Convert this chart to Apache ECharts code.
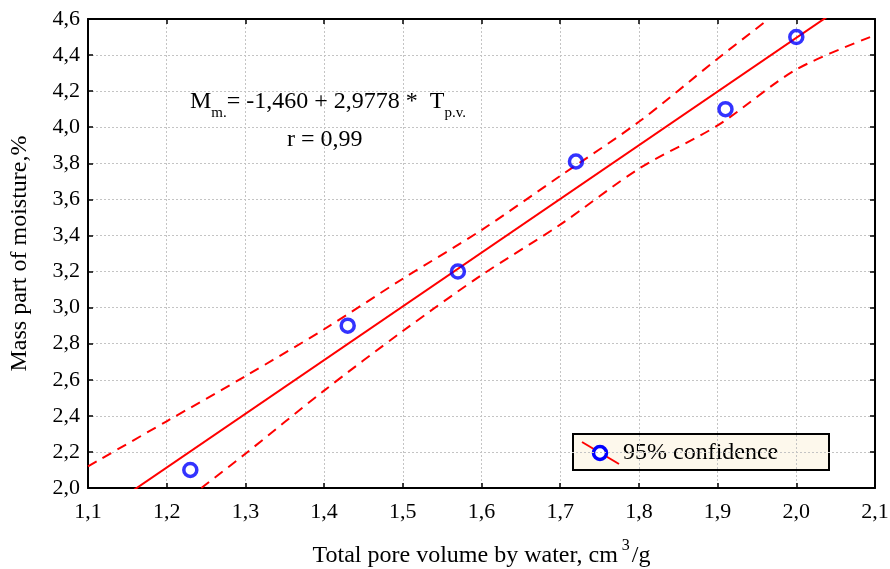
<!DOCTYPE html>
<html>
<head>
<meta charset="utf-8">
<script src="https://cdn.jsdelivr.net/npm/echarts@6/dist/echarts.min.js"></script>
<style>
  html, body { margin: 0; padding: 0; background: #ffffff; }
  #chart { width: 890px; height: 569px; }
</style>
</head>
<body>
<div id="chart"></div>
<script>
// Measured samples: total pore volume (cm3/g) vs. mass part of moisture (%)
const poreVolume = [1.23, 1.43, 1.57, 1.72, 1.91, 2.00];
const moisture   = [2.10, 2.90, 3.20, 3.81, 4.10, 4.50];

// Fitted regression: M = intercept + slope * T
const intercept = -1.460;
const slope = 2.9778;
const fitRange = [1.1, 2.1];

// 95% confidence limits of the fit
const upperT = [1.10, 1.20, 1.30, 1.40, 1.50, 1.60, 1.70, 1.80, 1.90, 1.965];
const upperM = [2.12, 2.37, 2.62, 2.88, 3.16, 3.43, 3.73, 4.03, 4.38, 4.60];
const lowerT = [1.244, 1.30, 1.40, 1.50, 1.60, 1.70, 1.80, 1.90, 2.00, 2.10];
const lowerM = [2.00, 2.19, 2.54, 2.87, 3.18, 3.46, 3.77, 4.01, 4.32, 4.51];

// Axis ranges
const xMin = 1.1, xMax = 2.1, xStep = 0.1;
const yMin = 2.0, yMax = 4.6, yStep = 0.2;

const SERIF = '"Liberation Serif", "Times New Roman", serif';
const RED = '#ff0000';
const BLUE = '#0000ff';

const comma = v => v.toFixed(1).replace('.', ',');
const pairs = (xs, ys) => xs.map((x, i) => [x, ys[i]]);
const fitLine = fitRange.map(t => [t, intercept + slope * t]);

const axisLineStyle = { show: true, lineStyle: { color: '#000', width: 2 } };
const tickStyle = { show: true, inside: true, length: 5, lineStyle: { color: '#000', width: 1.5 } };

const chart = echarts.init(document.getElementById('chart'), null, { renderer: 'canvas' });

chart.setOption({
  animation: false,
  backgroundColor: '#ffffff',
  grid: { left: 88, right: 15, top: 19, bottom: 81, containLabel: false, outerBoundsMode: 'none' },
  xAxis: [
    {
      type: 'value', min: xMin, max: xMax, interval: xStep,
      axisLine: axisLineStyle, axisTick: tickStyle,
      axisLabel: { formatter: comma, color: '#000', fontFamily: SERIF, fontSize: 22, margin: 13 },
      splitLine: { show: true, lineStyle: { color: '#c4c4c4', width: 1, type: [2, 2] } },
      name: '{t|Total pore volume by water, cm}{sup|3}{t|/g}',
      nameLocation: 'middle', nameGap: 50,
      nameTextStyle: {
        rich: {
          t: { fontFamily: SERIF, fontSize: 24, color: '#000', lineHeight: 30, verticalAlign: 'bottom' },
          sup: { fontFamily: SERIF, fontSize: 16, color: '#000', lineHeight: 30, verticalAlign: 'top', padding: [0, 2, 0, 4] }
        }
      }
    },
    {
      type: 'value', position: 'top', min: xMin, max: xMax, interval: xStep,
      axisLine: axisLineStyle, axisTick: tickStyle,
      axisLabel: { show: false }, splitLine: { show: false }
    }
  ],
  yAxis: [
    {
      type: 'value', min: yMin, max: yMax, interval: yStep,
      axisLine: axisLineStyle, axisTick: tickStyle,
      axisLabel: { formatter: comma, color: '#000', fontFamily: SERIF, fontSize: 22, margin: 8 },
      splitLine: { show: true, lineStyle: { color: '#c4c4c4', width: 1, type: [2, 2] } },
      name: 'Mass part of moisture,%',
      nameLocation: 'middle', nameGap: 56, nameRotate: 90,
      nameTextStyle: { fontFamily: SERIF, fontSize: 24, color: '#000' }
    },
    {
      type: 'value', position: 'right', min: yMin, max: yMax, interval: yStep,
      axisLine: axisLineStyle, axisTick: tickStyle,
      axisLabel: { show: false }, splitLine: { show: false }
    }
  ],
  series: [
    {
      name: 'fit', type: 'line', data: fitLine, showSymbol: false, symbol: 'none',
      lineStyle: { color: RED, width: 2 }, clip: true, z: 3
    },
    {
      name: 'upper', type: 'line', data: pairs(upperT, upperM), symbol: 'none', smooth: 0.3,
      lineStyle: { color: RED, width: 2, type: [10, 7] }, clip: true, z: 3
    },
    {
      name: 'lower', type: 'line', data: pairs(lowerT, lowerM), symbol: 'none', smooth: 0.3,
      lineStyle: { color: RED, width: 2, type: [10, 7] }, clip: true, z: 3
    },
    {
      name: '95% confidence', type: 'scatter', data: pairs(poreVolume, moisture),
      symbol: 'circle', symbolSize: 13,
      itemStyle: { color: 'rgba(0,0,0,0)', borderColor: BLUE, borderWidth: 3.5 },
      z: 5
    }
  ],
  graphic: [
    {
      type: 'text', left: 190, top: 90, z: 10,
      style: {
        text: '{m|M}{s|m.}{m|= -1,460 + 2,9778 *  T}{s|p.v.}',
        rich: {
          m: { fontFamily: SERIF, fontSize: 24, fill: '#000', lineHeight: 38, verticalAlign: 'middle' },
          s: { fontFamily: SERIF, fontSize: 15, fill: '#000', lineHeight: 38, verticalAlign: 'bottom' }
        }
      }
    },
    {
      type: 'text', x: 287, y: 140, z: 10,
      style: { text: 'r = 0,99', fontFamily: SERIF, fontSize: 24, fill: '#000', verticalAlign: 'middle' }
    },
    {
      type: 'group', left: 572, top: 433, z: 10,
      children: [
        { type: 'rect', shape: { x: 0, y: 0, width: 256, height: 36 },
          style: { fill: '#fdf8ec', stroke: '#000', lineWidth: 2 } },
        { type: 'line', shape: { x1: 9, y1: 8, x2: 46, y2: 30 },
          style: { stroke: RED, lineWidth: 2 } },
        { type: 'circle', shape: { cx: 27, cy: 19, r: 6.5 },
          style: { fill: '#ffffff', stroke: BLUE, lineWidth: 3.5 } },
        { type: 'text', x: 50, y: 19,
          style: { text: '95% confidence', fontFamily: SERIF, fontSize: 24, fill: '#000', verticalAlign: 'middle' } }
      ]
    }
  ]
});
</script>
</body>
</html>
